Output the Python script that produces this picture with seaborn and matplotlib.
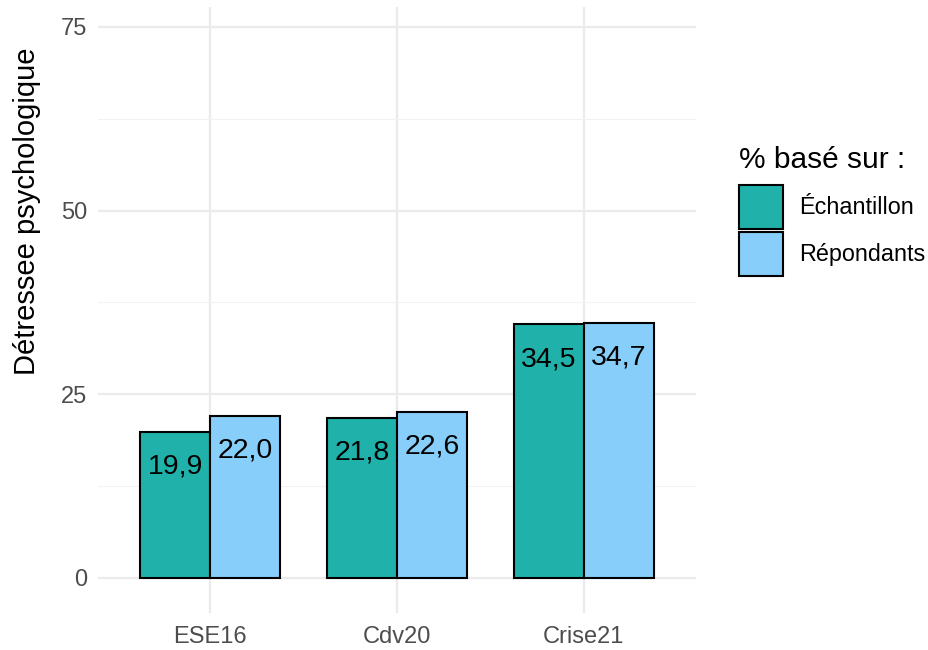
import matplotlib
matplotlib.use("Agg")
import matplotlib.pyplot as plt
import seaborn as sns
import pandas as pd
from matplotlib.patches import Patch

categories = ["ESE16", "Cdv20", "Crise21"]
groups = ["Échantillon", "Répondants"]
echantillon = [19.9, 21.8, 34.5]
repondants = [22.0, 22.6, 34.7]
colors = ["#20B2AA", "#87CEFA"]

df = pd.DataFrame({
    "cat": categories * 2,
    "grp": [groups[0]] * 3 + [groups[1]] * 3,
    "val": echantillon + repondants,
})

sns.set_theme(style="whitegrid")
plt.rcParams["font.family"] = ["Liberation Sans", "DejaVu Sans"]

fig = plt.figure(figsize=(9.29, 6.5), dpi=100)
ax = fig.add_axes([0.1055, 0.0569, 0.749 - 0.1055, 0.989 - 0.0569])

sns.barplot(data=df, x="cat", y="val", hue="grp", order=categories,
            hue_order=groups, palette=colors, width=0.75, gap=0,
            edgecolor="black", linewidth=1.5, saturation=1, ax=ax, legend=False)

for cont in ax.containers:
    for bar in cont:
        h = bar.get_height()
        ax.annotate(f"{h:.1f}".replace(".", ","),
                    (bar.get_x() + bar.get_width() / 2, h),
                    xytext=(0, -25), textcoords="offset points",
                    ha="center", va="center", fontsize=20.5, color="black")

ax.set_xlim(-0.6, 2.6)
ax.set_ylim(-4.8, 77.7)
ax.set_yticks([0, 25, 50, 75])
ax.set_yticks([12.5, 37.5, 62.5], minor=True)
ax.grid(True, which="major", color="#EBEBEB", linewidth=1.6)
ax.grid(True, which="minor", axis="y", color="#F2F2F2", linewidth=0.8)
ax.set_axisbelow(True)
for s in ax.spines.values():
    s.set_visible(False)
ax.tick_params(axis="both", which="both", length=0, labelsize=17, labelcolor="#4D4D4D")
ax.tick_params(axis="x", pad=9)
ax.tick_params(axis="y", pad=8)
ax.set_xlabel("")
ax.set_ylabel("Détressee psychologique", fontsize=21, color="black",
              labelpad=14, y=0.663)

handles = [Patch(facecolor=c, edgecolor="black", linewidth=1.5) for c in colors]
leg = fig.legend(handles, groups, title="% basé sur :", loc="upper left",
                 bbox_to_anchor=(0.795, 0.776), frameon=False, fontsize=16.8,
                 title_fontsize=21.5, handlelength=1.9, handleheight=2.55,
                 labelspacing=0.12, handletextpad=0.7, borderaxespad=0,
                 borderpad=0, labelcolor="black")
leg.get_title().set_color("black")
leg._legend_box.align = "left"
leg._legend_box.sep = 8

fig.savefig("out.png", dpi=100)
